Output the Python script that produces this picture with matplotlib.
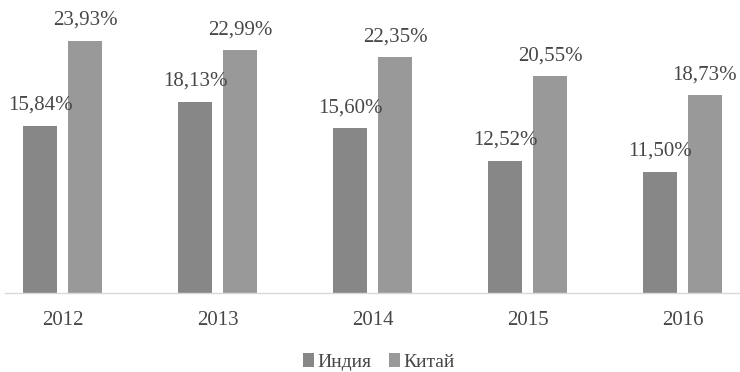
import numpy as np
import matplotlib.pyplot as plt

plt.rcParams['font.family'] = ['Liberation Serif', 'DejaVu Serif']

years = ['2012', '2013', '2014', '2015', '2016']
india = [15.84, 18.13, 15.60, 12.52, 11.50]
china = [23.93, 22.99, 22.35, 20.55, 18.73]
india_lbl = ['15,84%', '18,13%', '15,60%', '12,52%', '11,50%']
china_lbl = ['23,93%', '22,99%', '22,35%', '20,55%', '18,73%']

fig = plt.figure(figsize=(7.4, 3.72), dpi=100)
ax = fig.add_axes([5 / 740, 1 - 293 / 372, 735 / 740, 293 / 372])

x = np.arange(len(years))
w = 0.225
b1 = ax.bar(x - 0.145, india, w, color='#878787', label='Индия')
b2 = ax.bar(x + 0.145, china, w, color='#999999', label='Китай')

txt = '#474747'
for bars, labels in ((b1, india_lbl), (b2, china_lbl)):
    for r, s in zip(bars, labels):
        ax.annotate(s, (r.get_x() + r.get_width() / 2, r.get_height()),
                    xytext=(0, 8), textcoords='offset points',
                    ha='center', va='bottom', fontsize=15, color=txt,
                    annotation_clip=False)

ax.set_xlim(-0.371, 4.371)
ax.set_ylim(0, 27.77)
ax.set_xticks(x)
ax.set_xticklabels(years, fontsize=15, color=txt)
ax.tick_params(axis='x', length=0, pad=13)
ax.set_yticks([])
for s in ['top', 'left', 'right']:
    ax.spines[s].set_visible(False)
ax.spines['bottom'].set_color('#d9d9d9')
ax.spines['bottom'].set_linewidth(1)

fig.legend(handles=[b1, b2], loc='center', bbox_to_anchor=(379 / 740, 1 - 362 / 372),
           ncol=2, frameon=False, fontsize=14, handlelength=0.55, handleheight=0.7,
           handletextpad=0.2, columnspacing=0.9, labelcolor=txt)

fig.savefig('out.png', dpi=100)
